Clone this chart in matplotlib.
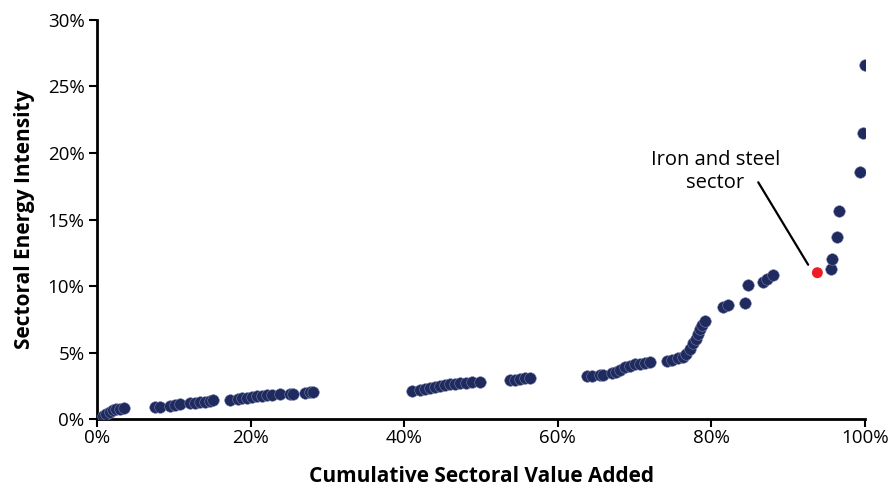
import matplotlib
matplotlib.use("Agg")
import matplotlib.pyplot as plt
from matplotlib.ticker import PercentFormatter, MultipleLocator

# Cumulative sectoral value added (%) and sectoral energy intensity (%)
cum_va = [0.8, 1.2, 1.7, 2.1, 2.5, 3.0, 3.5,
          7.6, 8.2, 9.5, 10.2, 10.8, 12.1, 12.8, 13.4, 14.1, 14.7, 15.1,
          17.3, 18.4, 18.9, 19.5, 20.2, 20.8, 21.5, 22.1, 22.8, 23.8, 25.1, 25.5, 27.1, 27.7, 28.1,
          41.0, 42.1, 42.7, 43.4, 44.0, 44.7, 45.3, 46.0, 46.6, 47.3, 48.0, 48.8, 49.9,
          53.8, 54.4, 55.1, 55.7, 56.4,
          63.8, 64.5, 65.5, 65.9, 67.1, 67.6, 68.1, 68.8, 69.4, 70.1, 70.7, 71.4, 72.0,
          74.2, 74.9, 75.7, 76.3, 76.7, 77.2, 77.6, 78.0, 78.3, 78.5, 78.8, 79.2,
          81.5, 82.2, 84.4, 84.8, 86.7, 87.3, 88.0,
          95.6, 95.7, 96.4, 96.6, 99.3, 99.7, 100.0]
intensity = [0.23, 0.38, 0.53, 0.68, 0.75, 0.75, 0.83,
             0.90, 0.90, 1.00, 1.05, 1.10, 1.20, 1.20, 1.30, 1.30, 1.35, 1.40,
             1.40, 1.50, 1.55, 1.60, 1.65, 1.70, 1.75, 1.80, 1.80, 1.85, 1.85, 1.90, 1.95, 2.00, 2.05,
             2.10, 2.20, 2.25, 2.30, 2.40, 2.45, 2.55, 2.60, 2.65, 2.70, 2.70, 2.75, 2.80,
             2.90, 2.95, 3.00, 3.05, 3.10,
             3.20, 3.20, 3.30, 3.30, 3.45, 3.55, 3.70, 3.90, 4.00, 4.10, 4.15, 4.20, 4.25,
             4.35, 4.45, 4.55, 4.70, 4.90, 5.25, 5.70, 6.05, 6.40, 6.75, 7.10, 7.35,
             8.45, 8.60, 8.70, 10.10, 10.30, 10.55, 10.80,
             11.30, 12.05, 13.65, 15.65, 18.60, 21.50, 26.60]
iron_steel_x = [93.8]
iron_steel_y = [11.0]

navy = "#1F2A5E"
font = ["Open Sans", "DejaVu Sans"]
plt.rcParams["font.family"] = font

fig = plt.figure(figsize=(8.91, 4.91), dpi=100)
ax = fig.add_axes([0.1089, 0.1466, 0.8619, 0.8127])

ax.scatter(cum_va, intensity, s=70, color=navy, edgecolor="#7a82a8",
           linewidth=0.4, zorder=3)
ax.scatter(iron_steel_x, iron_steel_y, s=62, color="#EE1C25",
           edgecolor="none", zorder=4)

ax.set_xlim(0, 100)
ax.set_ylim(0, 30)
ax.xaxis.set_major_locator(MultipleLocator(20))
ax.yaxis.set_major_locator(MultipleLocator(5))
ax.xaxis.set_major_formatter(PercentFormatter(decimals=0))
ax.yaxis.set_major_formatter(PercentFormatter(decimals=0))

for side in ["top", "right"]:
    ax.spines[side].set_visible(False)
for side in ["left", "bottom"]:
    ax.spines[side].set_linewidth(2)
    ax.spines[side].set_color("black")
ax.tick_params(axis="both", direction="out", length=6, width=1.5,
               labelsize=13.5, colors="black")
ax.tick_params(axis="x", pad=1)
ax.tick_params(axis="y", pad=3)

ax.set_xlabel("Cumulative Sectoral Value Added", fontsize=15,
              fontweight="bold", labelpad=14)
ax.set_ylabel("Sectoral Energy Intensity", fontsize=15,
              fontweight="bold", labelpad=9)

ax.text(80.5, 18.6, "Iron and steel\nsector", ha="center", va="center",
        fontsize=14.5, linespacing=1.25)
ax.annotate("", xy=(92.6, 11.6), xytext=(86.1, 17.8),
            arrowprops=dict(arrowstyle="-", color="black", lw=1.6,
                            shrinkA=0, shrinkB=0))

fig.savefig("out.png", dpi=100)
